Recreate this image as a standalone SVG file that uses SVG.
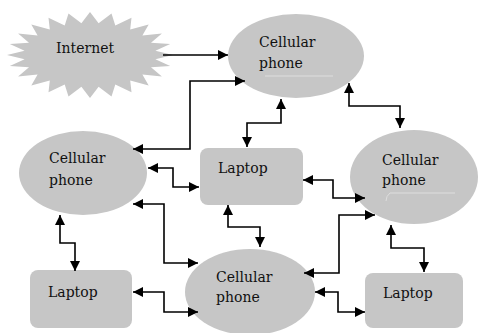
<svg xmlns="http://www.w3.org/2000/svg" width="482" height="333" viewBox="0 0 482 333">
  <style>
    .shape { fill: #c6c6c6; }
    .label { font-family: "DejaVu Serif", "Liberation Serif", serif; font-size: 14px; fill: #111; }
    .link { fill: none; stroke: #000; stroke-width: 1.6; }
    .both { marker-start: url(#head); marker-end: url(#head); }
    .one { marker-end: url(#head); }
    .gleam { fill: none; stroke: #dedede; stroke-width: 1; }
  </style>
  <defs>
    <marker id="head" viewBox="0 0 10 10" refX="10" refY="5" markerWidth="10" markerHeight="10" markerUnits="userSpaceOnUse" orient="auto-start-reverse">
      <path d="M0,0 L10,5 L0,10 z" fill="#000"/>
    </marker>
  </defs>

  <rect width="482" height="333" fill="#fff"/>

  <g id="internet">
    <polygon class="shape" points="173,55 155.4,59.2 170.2,66.1 151,67.2 161.9,76.5 142.4,74.5 148.7,85.4 130.2,80.4 131.5,92.2 115.3,84.6 111.5,96.5 98.6,86.7 90,98 81.4,86.7 68.5,96.5 64.7,84.6 48.5,92.2 49.8,80.4 31.3,85.4 37.6,74.5 18.1,76.5 29,67.2 9.8,66.1 24.6,59.2 7,55 24.6,50.8 9.8,43.9 29,42.8 18.1,33.5 37.6,35.5 31.3,24.6 49.8,29.6 48.5,17.8 64.7,25.4 68.5,13.5 81.4,23.3 90,12 98.6,23.3 111.5,13.5 115.3,25.4 131.5,17.8 130.2,29.6 148.7,24.6 142.4,35.5 161.9,33.5 151,42.8 170.2,43.9 155.4,50.8"/>
    <text class="label" x="56" y="53">Internet</text>
  </g>

  <g id="phone-top">
    <ellipse class="shape" cx="296" cy="56" rx="68" ry="42"/>
    <line class="gleam" x1="265" y1="76" x2="333" y2="76"/>
    <text class="label" x="259" y="47">Cellular</text>
    <text class="label" x="259" y="68">phone</text>
  </g>

  <g id="phone-left">
    <ellipse class="shape" cx="83" cy="173" rx="64" ry="42"/>
    <text class="label" x="49" y="163">Cellular</text>
    <text class="label" x="49" y="185">phone</text>
  </g>

  <g id="laptop-middle">
    <rect class="shape" x="200" y="148" width="103" height="57" rx="8"/>
    <text class="label" x="218" y="173">Laptop</text>
  </g>

  <g id="phone-right">
    <ellipse class="shape" cx="414" cy="177" rx="64" ry="47"/>
    <line class="gleam" x1="390" y1="193" x2="455" y2="193"/>
    <path class="gleam" d="M390,193 Q386,196 386,201"/>
    <text class="label" x="382" y="165">Cellular</text>
    <text class="label" x="382" y="185">phone</text>
  </g>

  <g id="laptop-left">
    <rect class="shape" x="30" y="270" width="102" height="58" rx="8"/>
    <text class="label" x="48" y="297">Laptop</text>
  </g>

  <g id="phone-bottom">
    <ellipse class="shape" cx="250" cy="292" rx="65" ry="43"/>
    <text class="label" x="216" y="282">Cellular</text>
    <text class="label" x="216" y="302">phone</text>
  </g>

  <g id="laptop-right">
    <rect class="shape" x="365" y="273" width="98" height="55" rx="8"/>
    <text class="label" x="383" y="298">Laptop</text>
  </g>

  <g id="connectors">
    <path class="link one" d="M163,55 H228"/>
    <path class="link both" d="M133,149 H190 V81 H245"/>
    <path class="link both" d="M281,99 V123 H247 V147"/>
    <path class="link both" d="M349,83 V106 H400 V128"/>
    <path class="link both" d="M148,168 H173 V187 H199"/>
    <path class="link both" d="M133,204 H164 V263 H198"/>
    <path class="link both" d="M60,215 V243 H75 V271"/>
    <path class="link both" d="M133,292 H164 V312 H198"/>
    <path class="link both" d="M228,205 V227 H260 V247"/>
    <path class="link both" d="M303,180 H333 V198 H365"/>
    <path class="link both" d="M375,215 H339 V273 H304"/>
    <path class="link both" d="M391,225 V248 H424 V272"/>
    <path class="link both" d="M315,292 H338 V312 H365"/>
  </g>
</svg>
